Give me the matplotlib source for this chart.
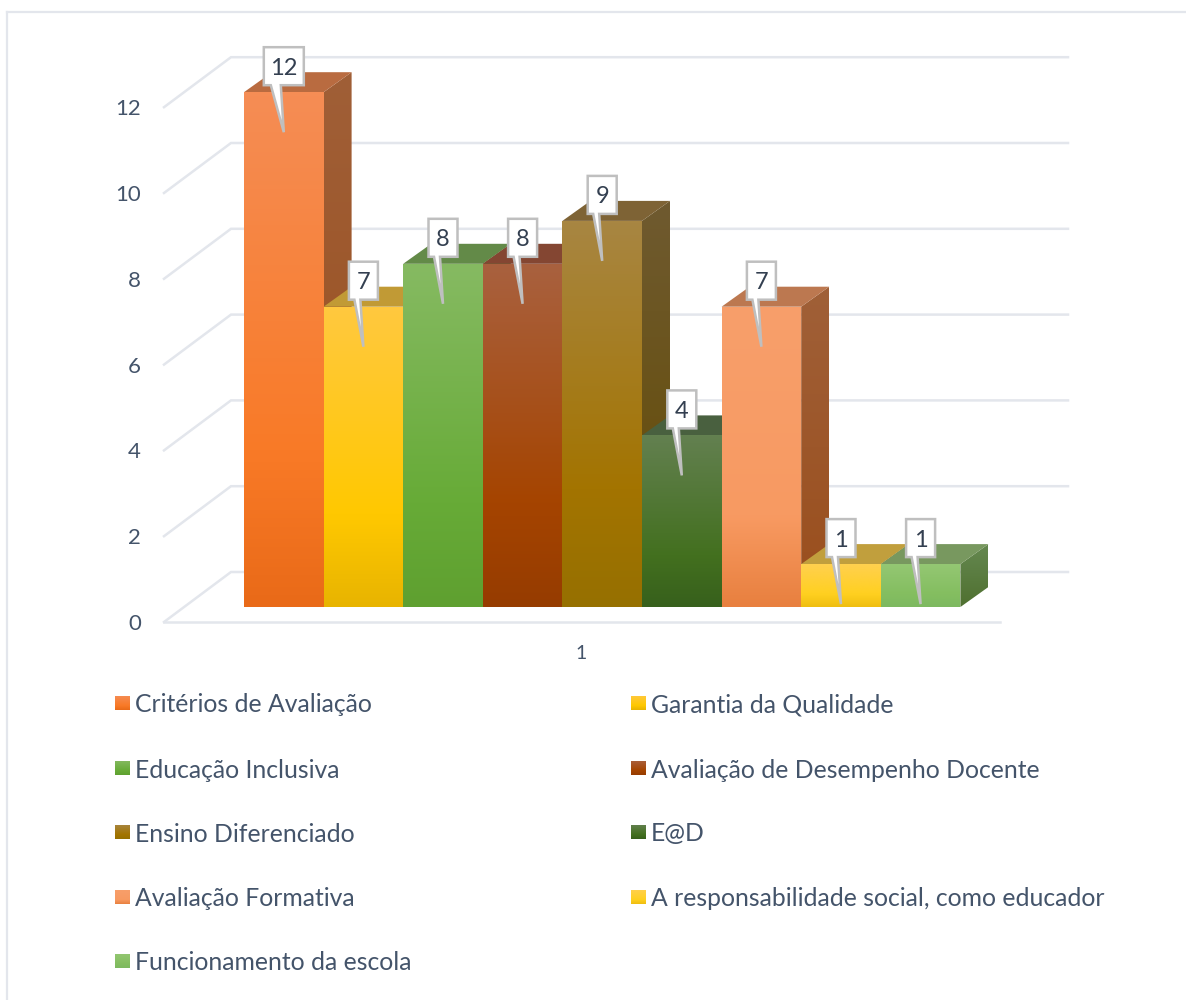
import numpy as np
import matplotlib
matplotlib.use("Agg")
import matplotlib.pyplot as plt
from matplotlib.colors import LinearSegmentedColormap
from matplotlib.patches import Polygon

plt.rcParams["font.family"] = ["Lato", "DejaVu Sans"]

categories = ["Critérios de Avaliação", "Garantia da Qualidade", "Educação Inclusiva",
              "Avaliação de Desempenho Docente", "Ensino Diferenciado", "E@D",
              "Avaliação Formativa", "A responsabilidade social, como educador",
              "Funcionamento da escola"]
values = [12, 7, 8, 8, 9, 4, 7, 1, 1]
y_ticks = [0, 2, 4, 6, 8, 10, 12]

# colours: front top, front middle, front bottom, side top, side bottom, roof
front_top = ["#F58D55", "#FFC93F", "#86BA62", "#A9613F", "#A88642", "#638050", "#F79F6B", "#FFD04F", "#94C773"]
front_mid = ["#F97A27", "#FFC800", "#67AB37", "#A54400", "#A37400", "#43701F", "#F89A62", "#FFD020", "#84BE60"]
front_bot = ["#E96A18", "#E8B400", "#5FA030", "#963C00", "#967000", "#37601C", "#E8803F", "#EFBE10", "#7DB960"]
side_top = ["#A05F37", "#A58020", "#55803A", "#6E4028", "#6F5A30", "#3F5535", "#A06038", "#A58020", "#658850"]
side_bot = ["#9A4E1C", "#8F6D00", "#3F6A20", "#642A00", "#644B00", "#25401A", "#9A4E1C", "#8F6D00", "#4F7030"]
roof = ["#B96B40", "#C19A35", "#638A48", "#844632", "#7E6335", "#49603F", "#BC7850", "#C19F3D", "#78985F"]

GRID = "#E3E6EC"
TEXT = "#44546A"
LABEL = "#333F50"

W, H = 1186, 1000
BAR_W = 79.6   # px per bar
UNIT = 42.9    # px per value unit
X0, Y0 = 244, 607  # pixel of the first bar's front bottom corner

# depth of a bar and of the floor, in data units
bar_dx, bar_dy = 28 / BAR_W, 20 / UNIT
floor_left = (164 - X0) / BAR_W
floor_front = (622 - Y0) / -UNIT
wall_dx, wall_dy = 67 / BAR_W, 50 / UNIT
floor_right = (1000 - X0) / BAR_W
wall_right = (1068 - X0) / BAR_W

fig = plt.figure(figsize=(W / 100, H / 100), dpi=100)
ax = fig.add_axes([0, 0, 1, 1])
ax.set_xlim(-X0 / BAR_W, (W - X0) / BAR_W)
ax.set_ylim(-(H - Y0) / UNIT, Y0 / UNIT)
ax.axis("off")


def px_x(p):
    return (p - X0) / BAR_W


def px_y(p):
    return (Y0 - p) / UNIT


def gradient_fill(poly, colors, z):
    # colors run from bottom to top
    cmap = LinearSegmentedColormap.from_list("g", colors)
    xs, ys = zip(*poly)
    grad = np.linspace(0, 1, 128).reshape(-1, 1)
    im = ax.imshow(grad, origin="lower", cmap=cmap, aspect="auto", zorder=z,
                   extent=[min(xs), max(xs), min(ys), max(ys)])
    patch = Polygon(poly, closed=True, transform=ax.transData, fc="none", ec="none")
    ax.add_patch(patch)
    im.set_clip_path(patch)


def front_stops(i):
    return [(0, front_bot[i]), (0.3, front_mid[i]), (1, front_top[i])]


# frame (top and left only are visible)
ax.plot([px_x(7), px_x(7)], [px_y(12), px_y(1000)], color=GRID, lw=1.6, zorder=1)
ax.plot([px_x(7), px_x(1186)], [px_y(12), px_y(12)], color=GRID, lw=1.6, zorder=1)

# gridlines on the wall and side
base = floor_front
for v in y_ticks:
    y_front = base + v
    y_back = y_front + wall_dy
    ax.plot([floor_left, floor_left + wall_dx, wall_right],
            [y_front, y_back, y_back], color=GRID, lw=1.8, zorder=2,
            solid_joinstyle="miter")
    ax.text(px_x(141), y_front, str(v), ha="right", va="center_baseline",
            fontsize=16, color=TEXT, zorder=2)
ax.plot([floor_left, floor_right], [base, base], color=GRID, lw=1.8, zorder=2)
ax.text(px_x(581), px_y(652), "1", ha="center", va="center_baseline", fontsize=14, color=TEXT)

# bars, drawn left to right so that neighbours overlap as in the 3D view
for i, v in enumerate(values):
    z = 10 + i * 0.1
    side = [(i + 1, 0), (i + 1 + bar_dx, bar_dy), (i + 1 + bar_dx, v + bar_dy), (i + 1, v)]
    top = [(i, v), (i + bar_dx, v + bar_dy), (i + 1 + bar_dx, v + bar_dy), (i + 1, v)]
    gradient_fill(side, [side_bot[i], side_top[i]], z)
    ax.add_patch(Polygon(top, closed=True, fc=roof[i], ec="none", zorder=z))
    front = [(i, 0), (i, v), (i + 1, v), (i + 1, 0)]
    gradient_fill(front, front_stops(i), z + 0.05)

# data labels with callout pointers
for i, v in enumerate(values):
    cx = i + 0.5
    box_w = 40 if v >= 10 else 29
    bottom = v + 7 / UNIT
    height = 38 / UNIT
    hw = box_w / 2 / BAR_W
    tip = (cx, v - 40 / UNIT)
    stem_l = cx - (13 if v >= 10 else 9) / BAR_W
    stem_r = cx - 3 / BAR_W
    outline = [(cx - hw, bottom + height), (cx + hw, bottom + height), (cx + hw, bottom),
               (stem_r, bottom), tip, (stem_l, bottom), (cx - hw, bottom)]
    ax.add_patch(Polygon(outline, closed=True, fc="white", ec="#BFBFBF", lw=1.8, zorder=20,
                         joinstyle="miter"))
    ax.text(cx, bottom + height / 2, str(v), ha="center", va="center_baseline",
            fontsize=17, color=LABEL, zorder=21)

# legend
left_col, right_col = 115, 631
rows = [703, 768, 832, 897, 961]
for i, name in enumerate(categories):
    x_px = left_col if i % 2 == 0 else right_col
    y_px = rows[i // 2]
    s = 15 / BAR_W
    h = 15 / UNIT
    sq = [(px_x(x_px), px_y(y_px) - h / 2), (px_x(x_px), px_y(y_px) + h / 2),
          (px_x(x_px) + s, px_y(y_px) + h / 2), (px_x(x_px) + s, px_y(y_px) - h / 2)]
    gradient_fill(sq, front_stops(i), 5)
    ax.text(px_x(x_px + 20), px_y(y_px), name, ha="left", va="center_baseline", fontsize=17.8,
            color=TEXT)

ax.set_xlim(-X0 / BAR_W, (W - X0) / BAR_W)
ax.set_ylim(-(H - Y0) / UNIT, Y0 / UNIT)
fig.savefig("out.png", dpi=100, facecolor="white")
